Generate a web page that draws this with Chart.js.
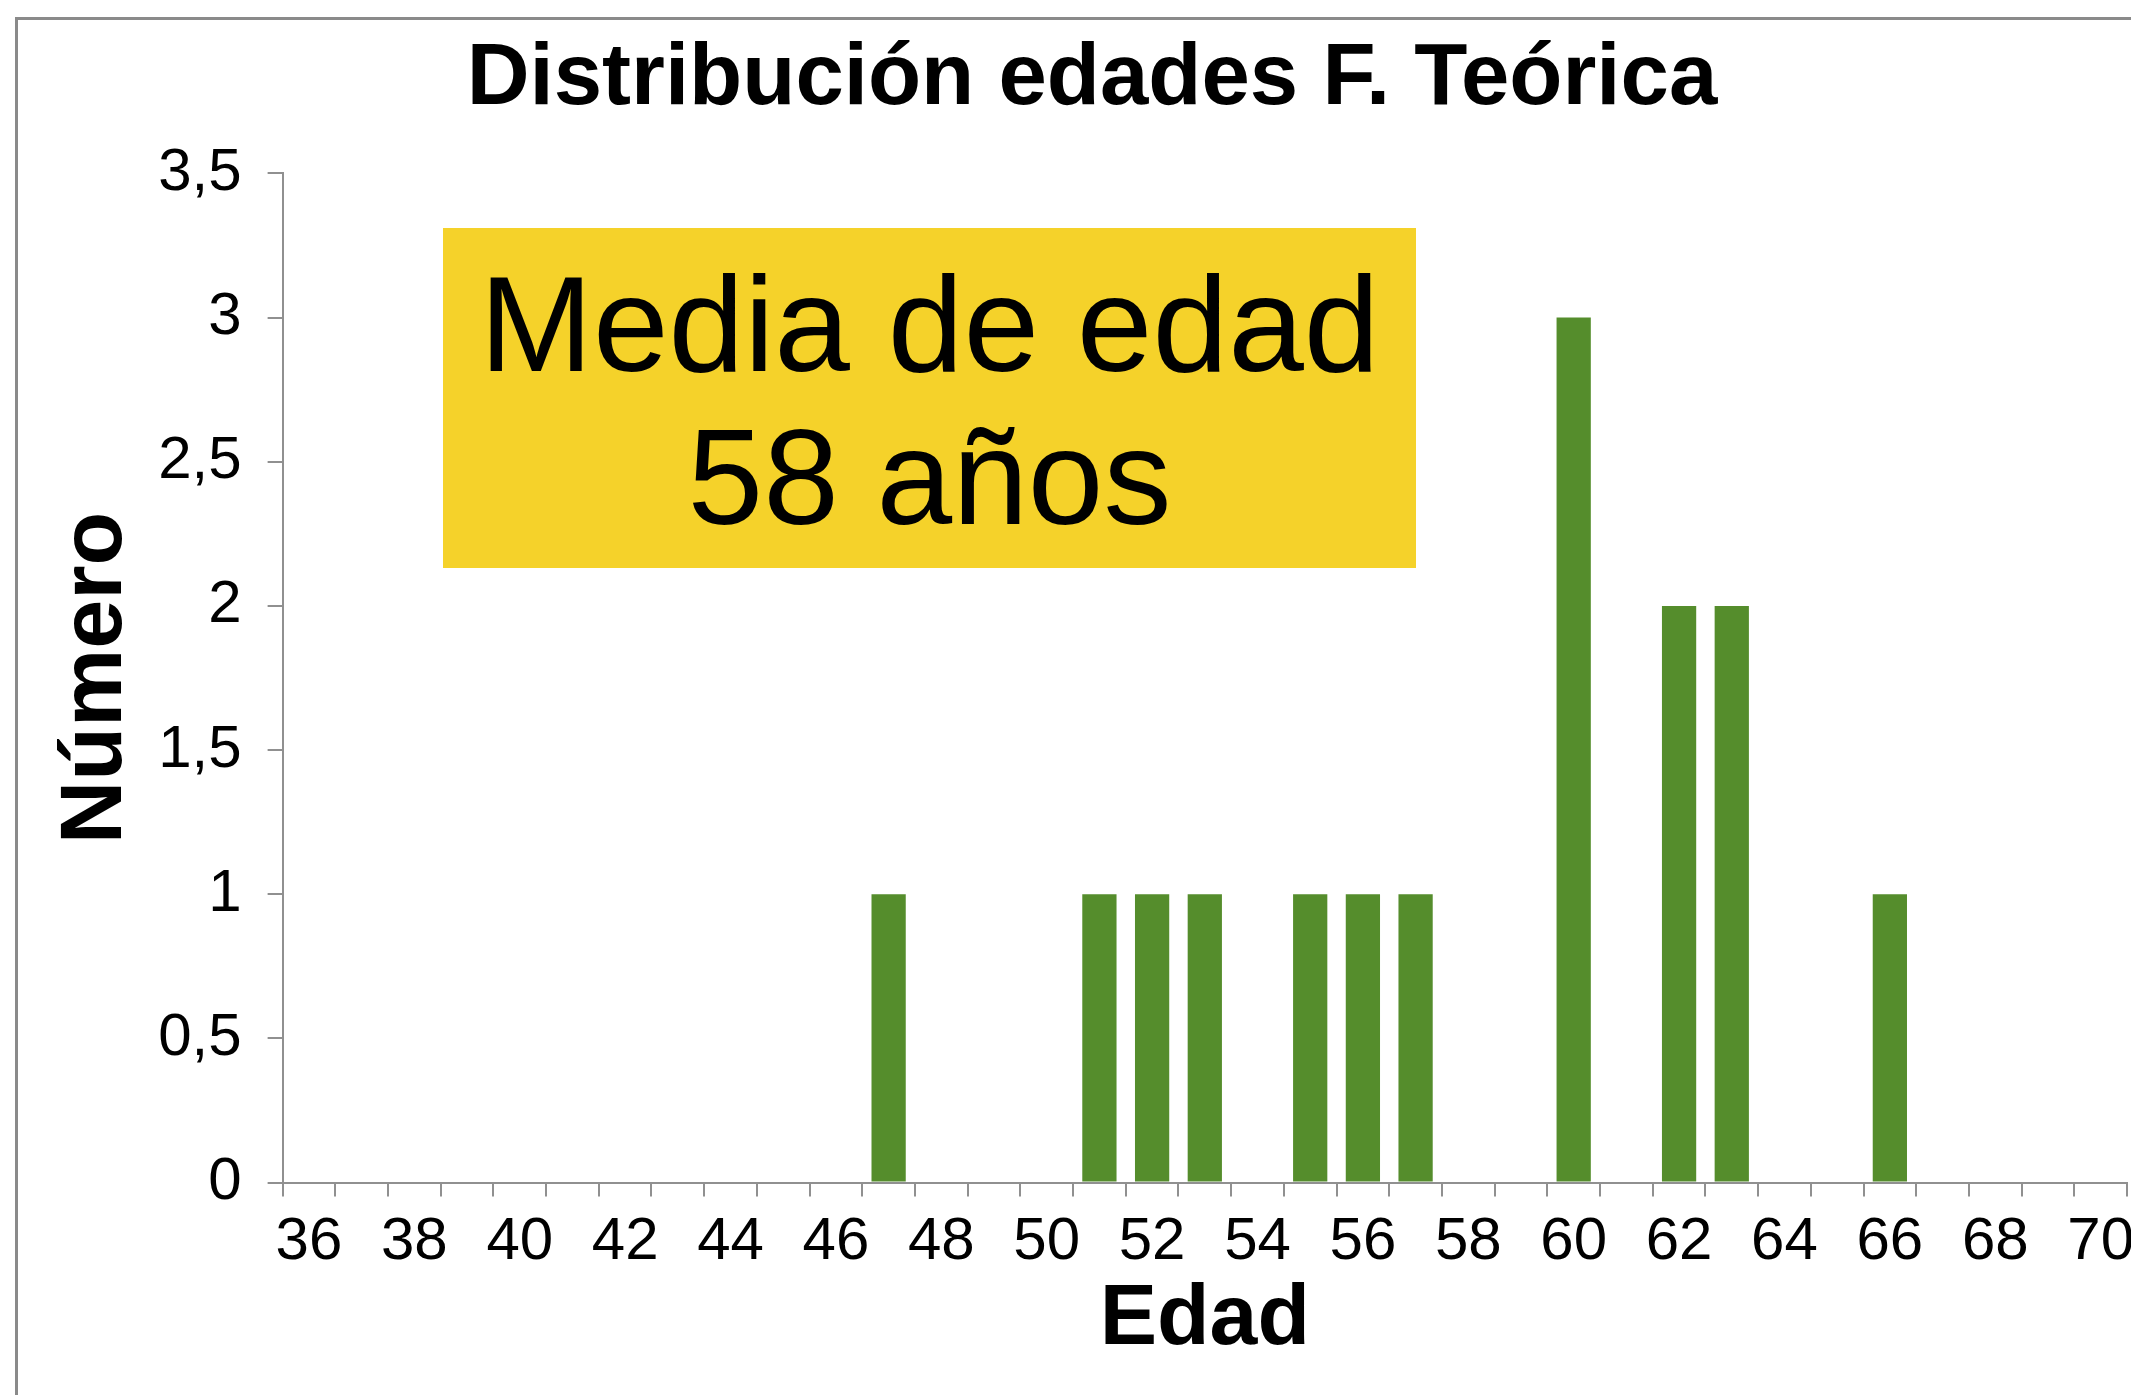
<!DOCTYPE html>
<html lang="es">
<head>
<meta charset="utf-8">
<title>Distribución edades F. Teórica</title>
<script src="https://cdn.jsdelivr.net/npm/chart.js@4.4.1/dist/chart.umd.min.js"></script>
<style>
  html, body { margin: 0; padding: 0; background: #fff; overflow: hidden; }
  body { width: 2131px; height: 1395px; position: relative; }
  .marco {
    position: absolute; left: 15px; top: 17px; width: 2300px; height: 1500px;
    border-left: 3px solid #8a8a8a; border-top: 3px solid #8a8a8a;
    box-sizing: border-box;
  }
  #grafico { position: absolute; left: 0; top: 0; }
  .media {
    position: absolute; left: 443px; top: 228px; width: 973px; height: 340px;
    background: #f5d22a; color: #000;
    font-family: "Liberation Sans", Arial, sans-serif; font-size: 136px;
    line-height: 153px; text-align: center; box-sizing: border-box; padding-top: 20px;
  }
</style>
</head>
<body>
<div class="marco"></div>
<canvas id="grafico" width="2200" height="1395"></canvas>
<div class="media">Media de edad<br>58 años</div>
<script>
// Edades (una categoría por año) y número de personas de cada edad
const edades = [36, 37, 38, 39, 40, 41, 42, 43, 44, 45, 46, 47, 48, 49, 50, 51, 52, 53,
                54, 55, 56, 57, 58, 59, 60, 61, 62, 63, 64, 65, 66, 67, 68, 69, 70];
const numero = [0, 0, 0, 0, 0, 0, 0, 0, 0, 0, 0, 1, 0, 0, 0, 1, 1, 1,
                0, 1, 1, 1, 0, 0, 3, 0, 2, 2, 0, 0, 1, 0, 0, 0, 0];

// Rótulos de los ejes
const etiquetasX = ['36', '', '38', '', '40', '', '42', '', '44', '', '46', '', '48', '', '50', '', '52', '',
                    '54', '', '56', '', '58', '', '60', '', '62', '', '64', '', '66', '', '68', '', '70'];
const etiquetasY = ['0', '0,5', '1', '1,5', '2', '2,5', '3', '3,5'];

const fuente = '"Liberation Sans", Arial, Helvetica, sans-serif';
const gris = '#909090';
const verde = '#558d2c';

new Chart(document.getElementById('grafico'), {
  type: 'bar',
  data: {
    labels: edades.map(String),
    datasets: [{
      label: 'Número',
      data: numero,
      backgroundColor: verde,
      borderWidth: 0,
      categoryPercentage: 1.0,
      barPercentage: 0.65
    }]
  },
  options: {
    responsive: false,
    animation: false,
    layout: { padding: { left: 57, right: 73, top: 10, bottom: 36 } },
    plugins: {
      legend: { display: false },
      tooltip: { enabled: false },
      title: {
        display: true,
        text: 'Distribución edades F. Teórica',
        color: '#000',
        font: { family: fuente, size: 87, weight: 'bold', lineHeight: 1.2 },
        padding: { top: 18, bottom: 41 }
      }
    },
    scales: {
      x: {
        type: 'category',
        offset: true,
        grid: { display: true, offset: true, drawOnChartArea: false, drawTicks: true,
                tickLength: 14, color: gris, lineWidth: 2 },
        border: { display: true, color: gris, width: 2 },
        ticks: {
          autoSkip: false, maxRotation: 0, minRotation: 0, padding: 10, color: '#000',
          font: { family: fuente, size: 60, lineHeight: 1.2 },
          callback: (v, i) => etiquetasX[i]
        },
        title: {
          display: true, text: 'Edad', color: '#000',
          font: { family: fuente, size: 86, weight: 'bold', lineHeight: 0.9 },
          padding: { top: -7, bottom: 0 }
        }
      },
      y: {
        min: 0,
        max: 3.5,
        grid: { display: true, drawOnChartArea: false, drawTicks: true,
                tickLength: 15, color: gris, lineWidth: 2 },
        border: { display: true, color: gris, width: 2 },
        ticks: {
          stepSize: 0.5, padding: 26, color: '#000',
          font: { family: fuente, size: 60, lineHeight: 1.2 },
          callback: (v, i) => etiquetasY[i]
        },
        title: {
          display: true, text: 'Número', color: '#000',
          font: { family: fuente, size: 88, weight: 'bold', lineHeight: 0.9 },
          padding: { top: 0, bottom: -4 }
        }
      }
    }
  }
});
</script>
</body>
</html>
